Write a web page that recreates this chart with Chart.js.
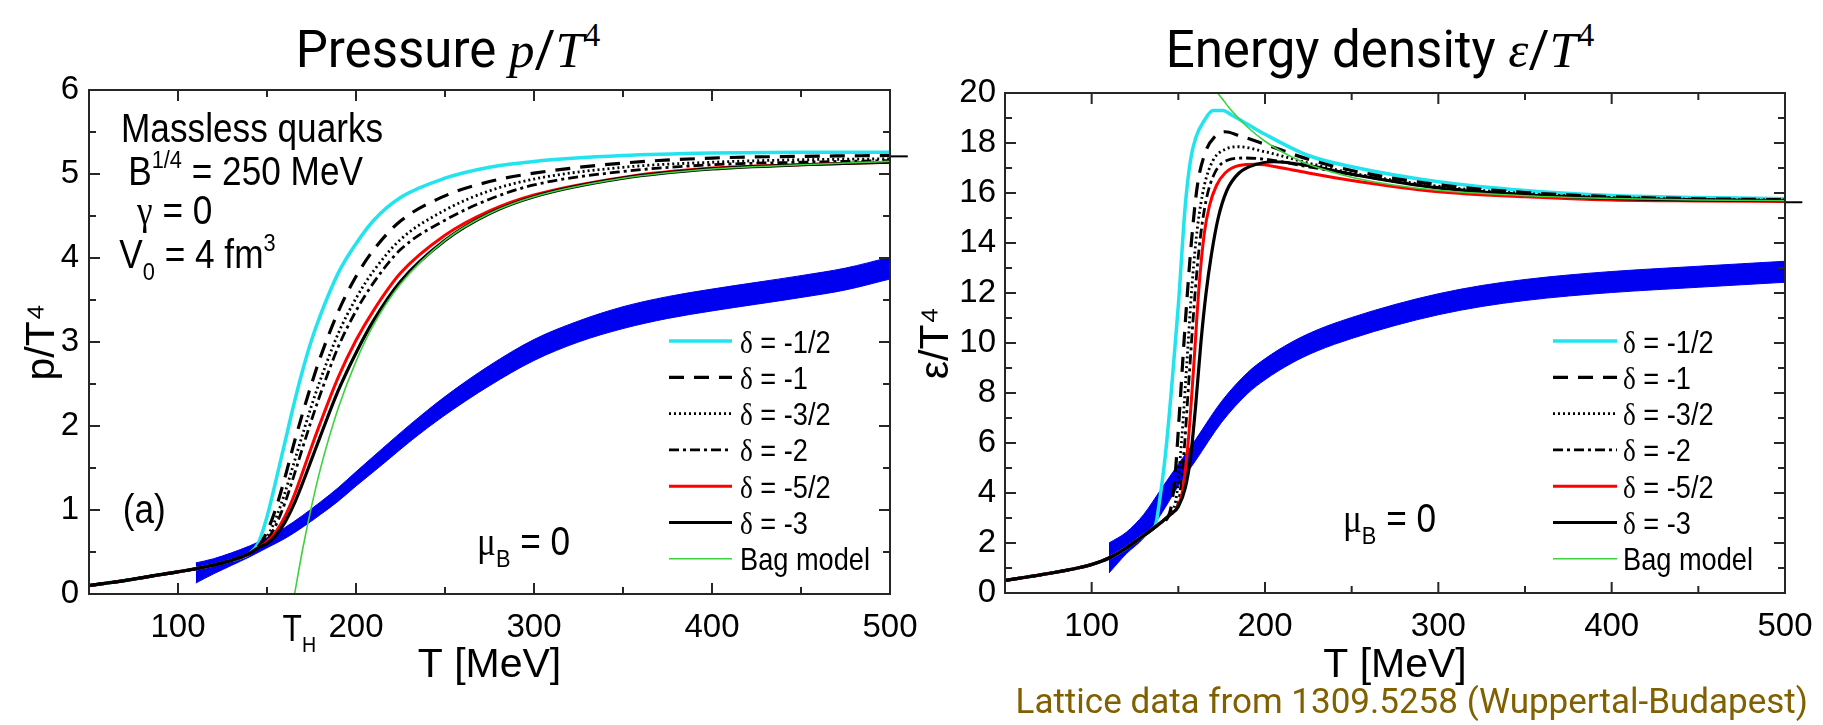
<!DOCTYPE html>
<html>
<head>
<meta charset="utf-8">
<title>Pressure and energy density</title>
<script src="https://cdn.jsdelivr.net/npm/chart.js@4.4.1/dist/chart.umd.min.js"></script>
<style>
  html, body { margin: 0; padding: 0; background: #fff; }
  body { position: relative; width: 1823px; height: 725px; overflow: hidden; font-family: Roboto, "Noto Sans", sans-serif; }
  canvas { position: absolute; top: 0; }
  #pressure { left: 0; }
  #energy { left: 912px; }
  .head { position: absolute; top: 24px; font-size: 51px; line-height: 51px; white-space: nowrap; color: #000; transform: translateX(-50%); }
  .head i { font-family: "Liberation Serif", "DejaVu Serif", serif; }
  .head sup { font-family: "Liberation Serif", "DejaVu Serif", serif; font-size: 33px; position: relative; top: -21px; vertical-align: baseline; }
  #note { position: absolute; right: 15px; top: 684px; font-size: 35px; line-height: 35px; color: #806000; white-space: nowrap; }
</style>
</head>
<body>
<div class="head" style="left:448px">Pressure <i>p</i>/<i>T</i><sup>4</sup></div>
<div class="head" style="left:1380px">Energy density <i>ε</i>/<i>T</i><sup>4</sup></div>
<canvas id="pressure" width="930" height="725"></canvas>
<canvas id="energy" width="911" height="725"></canvas>
<div id="note">Lattice data from 1309.5258 (Wuppertal-Budapest)</div>
<script>
// ---- values (T in MeV) ----

// hadron gas branch, shared by all model curves
const hrgT = [50, 70, 90, 110, 130, 140];
const hrgP = [0.10, 0.16, 0.23, 0.30, 0.40, 0.48];

// pressure p/T^4
const pT = [145, 150, 155, 160, 165, 170, 175, 180, 190, 200, 210, 225, 250, 275, 300, 350, 400, 450, 500];
const pHalf = [0.60, 0.92, 1.35, 1.80, 2.25, 2.66, 3.02, 3.32, 3.82, 4.17, 4.45, 4.72, 4.95, 5.08, 5.15, 5.22, 5.25, 5.26, 5.26];
const pOne = [0.56, 0.74, 1.02, 1.38, 1.78, 2.15, 2.50, 2.82, 3.36, 3.78, 4.10, 4.44, 4.74, 4.91, 5.01, 5.13, 5.19, 5.21, 5.22];
const pThreeHalf = [0.55, 0.68, 0.90, 1.20, 1.55, 1.90, 2.24, 2.55, 3.10, 3.52, 3.85, 4.22, 4.57, 4.80, 4.94, 5.08, 5.14, 5.17, 5.18];
const pTwo = [0.55, 0.64, 0.82, 1.08, 1.40, 1.74, 2.07, 2.38, 2.94, 3.37, 3.71, 4.10, 4.45, 4.70, 4.87, 5.03, 5.11, 5.14, 5.16];
const pFiveHalf = [0.55, 0.62, 0.74, 0.92, 1.16, 1.45, 1.75, 2.04, 2.58, 3.02, 3.38, 3.82, 4.27, 4.56, 4.75, 4.96, 5.07, 5.11, 5.14];
const pThree = [0.55, 0.60, 0.70, 0.85, 1.06, 1.32, 1.60, 1.88, 2.42, 2.87, 3.26, 3.72, 4.21, 4.53, 4.73, 4.95, 5.06, 5.11, 5.14];
const bagPT = [165.5, 170, 175, 180, 190, 200, 210, 225, 250, 275, 300, 350, 400, 450, 500];
const bagP = [0, 0.53, 1.04, 1.49, 2.21, 2.77, 3.21, 3.69, 4.21, 4.53, 4.73, 4.95, 5.06, 5.11, 5.15];

// lattice band for p/T^4
const latPT = [110, 120, 130, 140, 150, 160, 170, 180, 190, 200, 215, 230, 250, 275, 300, 325, 350, 375, 400, 425, 450, 475, 500];
const latPLo = [0.13, 0.24, 0.34, 0.44, 0.55, 0.66, 0.795, 0.945, 1.105, 1.285, 1.545, 1.81, 2.13, 2.48, 2.78, 3.0, 3.16, 3.28, 3.37, 3.45, 3.53, 3.62, 3.75];
const latPHi = [0.37, 0.42, 0.49, 0.57, 0.67, 0.79, 0.935, 1.095, 1.265, 1.455, 1.735, 2.01, 2.35, 2.72, 3.03, 3.25, 3.42, 3.54, 3.63, 3.71, 3.79, 3.88, 4.01];

// energy density e/T^4
const hrgET = [50, 70, 90, 100, 110, 120, 130, 135];
const hrgE = [0.50, 0.72, 0.97, 1.14, 1.40, 1.80, 2.30, 2.55];
const eHalfT = [137, 139, 142.5, 146, 150, 154, 157, 160, 165, 170, 176, 180, 190, 200, 225, 250, 300, 350, 400, 450, 500];
const eHalf = [2.75, 3.6, 5.5, 8.1, 11.5, 15.5, 17.3, 18.2, 18.9, 19.3, 19.3, 19.15, 18.75, 18.35, 17.5, 17.05, 16.45, 16.1, 15.9, 15.82, 15.77];
const eOneT = [140, 145, 148, 151, 154, 157.5, 161, 166, 171, 177, 185, 200, 225, 250, 300, 350, 400, 450, 500];
const eOne = [2.82, 3.2, 4.6, 7.6, 10.8, 14.0, 16.3, 17.7, 18.25, 18.45, 18.3, 17.95, 17.35, 16.9, 16.33, 16.02, 15.85, 15.77, 15.73];
const eThreeHalfT = [140, 145, 149, 152, 155, 158, 161, 165, 170, 177, 185, 200, 225, 250, 300, 350, 400, 450, 500];
const eThreeHalf = [2.82, 3.12, 3.9, 6.2, 9.3, 12.4, 14.6, 16.3, 17.3, 17.75, 17.85, 17.65, 17.2, 16.8, 16.27, 15.98, 15.82, 15.75, 15.72];
const eTwoT = [140, 145, 150, 153, 156, 159, 162, 166, 171, 178, 188, 200, 225, 250, 300, 350, 400, 450, 500];
const eTwo = [2.82, 3.12, 3.6, 5.4, 8.4, 11.4, 13.8, 15.7, 16.8, 17.3, 17.4, 17.35, 17.05, 16.75, 16.22, 15.95, 15.8, 15.74, 15.71];
const eFiveHalfT = [140, 145, 150, 153, 156, 159, 162, 165, 168, 172, 177, 185, 195, 210, 225, 250, 300, 350, 400, 450, 500];
const eFiveHalf = [2.82, 3.12, 3.5, 4.3, 6.3, 9.2, 12.3, 14.4, 15.5, 16.3, 16.8, 17.1, 17.15, 17.0, 16.8, 16.5, 16.05, 15.85, 15.72, 15.68, 15.66];
const eThreeT = [140, 145, 150, 154, 157, 160, 163, 166, 169, 173, 178, 185, 195, 205, 225, 250, 300, 350, 400, 450, 500];
const eThree = [2.82, 3.12, 3.45, 4.2, 5.4, 7.5, 10.0, 12.0, 13.5, 15.0, 16.1, 16.8, 17.15, 17.25, 17.1, 16.75, 16.2, 15.93, 15.78, 15.72, 15.69];
const bagET = [172.7, 175, 180, 190, 200, 210, 225, 250, 275, 300, 350, 400, 450, 500];
const bagE = [20.0, 19.8, 19.35, 18.63, 18.07, 17.64, 17.15, 16.63, 16.31, 16.11, 15.89, 15.78, 15.72, 15.69];

// lattice band for e/T^4
const latET = [110, 120, 130, 140, 150, 160, 175, 190, 200, 215, 230, 250, 275, 300, 325, 350, 375, 400, 425, 450, 475, 500];
const latELo = [0.8, 1.57, 2.2, 3.15, 4.29, 5.3, 6.83, 7.98, 8.53, 9.18, 9.68, 10.18, 10.7, 11.13, 11.46, 11.7, 11.88, 12.02, 12.13, 12.23, 12.33, 12.43];
const latEHi = [2.0, 2.43, 3.14, 4.15, 5.15, 6.14, 7.67, 8.82, 9.37, 10.02, 10.52, 11.02, 11.54, 11.97, 12.3, 12.54, 12.72, 12.86, 12.97, 13.07, 13.17, 13.27];

// Stefan-Boltzmann limit marks at the right border
const sbT = [500, 510];
const sbP = [5.21, 5.21];
const sbE = [15.63, 15.63];

// tick labels
const xLabels = [100, 200, 300, 400, 500];
const pLabels = [0, 1, 2, 3, 4, 5, 6];
const eLabels = [0, 2, 4, 6, 8, 10, 12, 14, 16, 18, 20];

// ---- styling ----
const sans = "'Liberation Sans', Arimo, Arial, sans-serif";
const serif = "'Liberation Serif', 'DejaVu Serif', serif";
const CYAN = '#22e4ee', RED = '#ff0000', GREEN = '#3fd13f', BLUE = '#0000f0', BLACK = '#000000';
const DASH = [15, 10], DOT = [2, 3], DASHDOT = [10, 4, 3, 4];

function pts(T, Y) {
  return T.map((t, i) => ({ x: t, y: Y[i] }));
}

function curve(T, Y, color, width, dash, order, legendText) {
  return {
    data: pts(T, Y),
    borderColor: color,
    borderWidth: width,
    borderDash: dash,
    pointRadius: 0,
    fill: false,
    cubicInterpolationMode: 'monotone',
    order: order,
    legendText: legendText
  };
}

function delta(v) {
  return [{ t: 'δ', serif: true }, ' = ' + v];
}

// draws text with sub/superscripts, condensed a bit like the original
function drawRich(ctx, parts, x, y, size, squeeze) {
  let cx = x;
  for (const p of parts) {
    const s = typeof p === 'string' ? { t: p } : p;
    const fs = (s.sup || s.sub) ? size * 0.62 : size;
    const dy = s.sup ? -size * 0.42 : (s.sub ? size * 0.3 : 0);
    ctx.font = fs + 'px ' + (s.serif ? serif : sans);
    ctx.save();
    ctx.translate(cx, y + dy);
    ctx.scale(squeeze, 1);
    ctx.fillText(s.t, 0, 0);
    ctx.restore();
    cx += ctx.measureText(s.t).width * squeeze;
  }
  return cx - x;
}

// notes and legend layout per panel
const panelText = {
  pressure: {
    legend: { y0: 253, step: 36.3, x0: 221, x1: 158, tx: 150, size: 32 },
    items: [
      { x: 68, v: 5.38, size: 40, parts: ['Massless quarks'] },
      { x: 72, v: 4.87, size: 40, parts: ['B', { t: '1/4', sup: true }, ' = 250 MeV'] },
      { x: 77, v: 4.40, size: 40, parts: [{ t: 'γ', serif: true }, ' = 0'] },
      { x: 67, v: 3.88, size: 40, parts: ['V', { t: '0', sub: true }, ' = 4 fm', { t: '3', sup: true }] },
      { x: 69, v: 0.85, size: 40, parts: ['(a)'] },
      { x: 268, v: 0.47, size: 40, parts: [{ t: 'μ', serif: true }, { t: 'B', sub: true }, ' = 0'] },
      { x: 165.5, below: 47, shift: -12, size: 36, parts: ['T', { t: 'H', sub: true }] }
    ]
  },
  energy: {
    legend: { y0: 252, step: 36.3, x0: 232, x1: 168, tx: 162, size: 32 },
    items: [
      { x: 245, v: 2.45, size: 40, parts: [{ t: 'μ', serif: true }, { t: 'B', sub: true }, ' = 0'] }
    ]
  }
};

// frame with inward ticks on all four sides
const frameTicks = {
  id: 'frameTicks',
  afterDatasetsDraw(chart) {
    const { ctx, chartArea: a, scales: { x, y } } = chart;
    ctx.save();
    ctx.strokeStyle = '#262626';
    ctx.lineWidth = 2;
    ctx.setLineDash([]);
    ctx.strokeRect(a.left, a.top, a.width, a.height);
    ctx.beginPath();
    x.ticks.forEach(t => {
      const px = x.getPixelForValue(t.value);
      const len = t.label !== '' ? 11 : 7;
      ctx.moveTo(px, a.bottom); ctx.lineTo(px, a.bottom - len);
      ctx.moveTo(px, a.top); ctx.lineTo(px, a.top + len);
    });
    y.ticks.forEach(t => {
      const py = y.getPixelForValue(t.value);
      const len = t.label !== '' ? 11 : 7;
      ctx.moveTo(a.left, py); ctx.lineTo(a.left + len, py);
      ctx.moveTo(a.right, py); ctx.lineTo(a.right - len, py);
    });
    ctx.stroke();
    ctx.restore();
  }
};

const notes = {
  id: 'notes',
  afterDraw(chart) {
    const cfg = panelText[chart.canvas.id];
    const { ctx, chartArea: a, scales } = chart;
    ctx.save();
    ctx.fillStyle = '#000';
    ctx.textAlign = 'left';
    ctx.textBaseline = 'alphabetic';
    cfg.items.forEach(it => {
      const px = scales.x.getPixelForValue(it.x) + (it.shift || 0);
      const py = it.below ? a.bottom + it.below : scales.y.getPixelForValue(it.v);
      drawRich(ctx, it.parts, px, py, it.size, 0.88);
    });
    const lg = cfg.legend;
    chart.data.datasets.filter(d => d.legendText).forEach((d, i) => {
      const yy = a.bottom - lg.y0 + i * lg.step;
      ctx.strokeStyle = d.borderColor;
      ctx.lineWidth = d.borderWidth;
      ctx.setLineDash(d.borderDash || []);
      ctx.beginPath();
      ctx.moveTo(a.right - lg.x0, yy);
      ctx.lineTo(a.right - lg.x1, yy);
      ctx.stroke();
      ctx.setLineDash([]);
      ctx.fillStyle = '#000';
      drawRich(ctx, d.legendText, a.right - lg.tx, yy + lg.size * 0.36, lg.size, 0.85);
    });
    ctx.restore();
  }
};

function buildChart(id, cfg) {
  return new Chart(document.getElementById(id), {
    type: 'line',
    data: { datasets: cfg.datasets },
    options: {
      responsive: false,
      animation: false,
      devicePixelRatio: 1,
      layout: { padding: { top: cfg.top, right: cfg.right, left: 0, bottom: 0 } },
      plugins: { legend: { display: false }, tooltip: { enabled: false } },
      scales: {
        x: {
          type: 'linear', min: 50, max: 500,
          afterFit(s) { s.height = cfg.xHeight; s.paddingLeft = 0; s.paddingRight = 0; },
          grid: { display: false, drawTicks: false },
          border: { display: false },
          ticks: {
            stepSize: 50, autoSkip: false, maxRotation: 0, minRotation: 0, padding: 14,
            color: '#000', font: { family: sans, size: 33 },
            callback: v => xLabels.includes(v) ? String(v) : ''
          },
          title: {
            display: true, text: 'T [MeV]', color: '#000',
            font: { family: sans, size: 41 }, padding: { top: 0, bottom: 35 }
          }
        },
        y: {
          type: 'linear', min: 0, max: cfg.yMax,
          afterFit(s) { s.width = cfg.yWidth; s.paddingTop = 0; s.paddingBottom = 0; },
          grid: { display: false, drawTicks: false },
          border: { display: false },
          ticks: {
            stepSize: cfg.yStep, autoSkip: false, padding: cfg.yPad,
            color: '#000', font: { family: sans, size: 33 },
            callback: v => cfg.yLabels.includes(v) ? String(v) : ''
          },
          title: {
            display: true, text: cfg.yTitle, color: '#000',
            font: { family: sans, size: 41 }, padding: { top: cfg.yTitlePad, bottom: 0 }
          }
        }
      }
    },
    plugins: [frameTicks, notes]
  });
}

// ---- pressure panel ----
buildChart('pressure', {
  top: 90, right: 40, xHeight: 131, yWidth: 89, yMax: 6, yStep: 0.5, yPad: 10,
  yLabels: pLabels, yTitle: 'p/T⁴', yTitlePad: 18,
  datasets: [
    curve(hrgT.concat(pT), hrgP.concat(pHalf), CYAN, 3.5, [], 6, delta('-1/2')),
    curve(hrgT.concat(pT), hrgP.concat(pOne), BLACK, 3.2, DASH, 5, delta('-1')),
    curve(hrgT.concat(pT), hrgP.concat(pThreeHalf), BLACK, 2.8, DOT, 4, delta('-3/2')),
    curve(hrgT.concat(pT), hrgP.concat(pTwo), BLACK, 2.8, DASHDOT, 3, delta('-2')),
    curve(hrgT.concat(pT), hrgP.concat(pFiveHalf), RED, 3, [], 2, delta('-5/2')),
    curve(hrgT.concat(pT), hrgP.concat(pThree), BLACK, 3.2, [], 1, delta('-3')),
    curve(bagPT, bagP, GREEN, 1.6, [], 0, ['Bag model']),
    Object.assign(curve(sbT, sbP, BLACK, 2, [], 0), { clip: false }),
    { data: pts(latPT, latPHi), borderColor: BLUE, backgroundColor: BLUE, borderWidth: 1, pointRadius: 0, fill: '+1', cubicInterpolationMode: 'monotone', order: 10 },
    { data: pts(latPT, latPLo), borderColor: BLUE, borderWidth: 1, pointRadius: 0, fill: false, cubicInterpolationMode: 'monotone', order: 11 }
  ]
});

// ---- energy density panel ----
buildChart('energy', {
  top: 93, right: 38, xHeight: 132, yWidth: 93, yMax: 20, yStep: 1, yPad: 9,
  yLabels: eLabels, yTitle: 'ε/T⁴', yTitlePad: 0,
  datasets: [
    curve(hrgET.concat(eHalfT), hrgE.concat(eHalf), CYAN, 3.5, [], 6, delta('-1/2')),
    curve(hrgET.concat(eOneT), hrgE.concat(eOne), BLACK, 3.2, DASH, 5, delta('-1')),
    curve(hrgET.concat(eThreeHalfT), hrgE.concat(eThreeHalf), BLACK, 2.8, DOT, 4, delta('-3/2')),
    curve(hrgET.concat(eTwoT), hrgE.concat(eTwo), BLACK, 2.8, DASHDOT, 3, delta('-2')),
    curve(hrgET.concat(eFiveHalfT), hrgE.concat(eFiveHalf), RED, 3, [], 2, delta('-5/2')),
    curve(hrgET.concat(eThreeT), hrgE.concat(eThree), BLACK, 3.2, [], 1, delta('-3')),
    curve(bagET, bagE, GREEN, 1.6, [], 0, ['Bag model']),
    Object.assign(curve(sbT, sbE, BLACK, 2, [], 0), { clip: false }),
    { data: pts(latET, latEHi), borderColor: BLUE, backgroundColor: BLUE, borderWidth: 1, pointRadius: 0, fill: '+1', cubicInterpolationMode: 'monotone', order: 10 },
    { data: pts(latET, latELo), borderColor: BLUE, borderWidth: 1, pointRadius: 0, fill: false, cubicInterpolationMode: 'monotone', order: 11 }
  ]
});
</script>
</body>
</html>
